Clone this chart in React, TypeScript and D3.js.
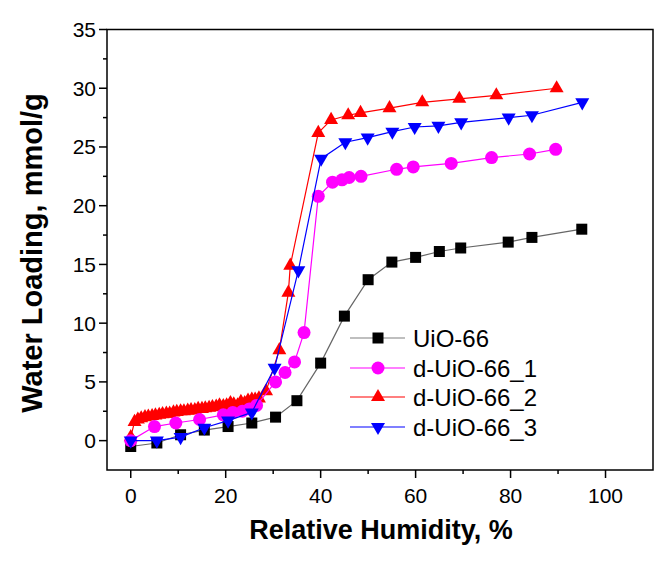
import React from "react";
import * as d3 from "d3";

const uioX = [0, 5.5, 10.5, 15.5, 20.5, 25.5, 30.5, 35, 40, 45, 50, 55, 60, 65, 69.5, 79.5, 84.5, 95];
const uioY = [-0.5, -0.2, 0.5, 0.9, 1.2, 1.5, 2.0, 3.4, 6.6, 10.6, 13.7, 15.2, 15.6, 16.1, 16.4, 16.9, 17.3, 18.0];

const d1X = [0, 5, 9.5, 14.5, 19.5, 21.5, 23.5, 25, 26.5, 30.5, 32.5, 34.5, 36.5, 39.5, 42.5, 44.5, 46, 48.5, 56, 59.5, 67.5, 76, 84, 89.5];
const d1Y = [0, 1.2, 1.5, 1.8, 2.2, 2.4, 2.5, 2.7, 3.0, 5.0, 5.8, 6.7, 9.2, 20.8, 22.0, 22.2, 22.4, 22.5, 23.1, 23.3, 23.6, 24.1, 24.4, 24.8];

const d2X = [0, 0.8, 1.5, 2.2, 3.0, 3.7, 4.5, 5.2, 6.0, 6.7, 7.5, 8.2, 9.0, 9.7, 10.5, 11.2, 12.0, 12.7, 13.5, 14.2, 15.0, 15.7, 16.5, 17.2, 18.0, 18.7, 19.5, 20.2, 21.0, 21.7, 22.5, 23.2, 24.0, 24.7, 25.5, 26.2, 27.0, 28.5, 31.3, 33.2, 33.6, 39.5, 42.2, 45.8, 48.4, 54.5, 61.4, 69.2, 77, 89.7];
const d2Y = [0.3, 1.6, 1.8, 1.9, 2.0, 2.05, 2.1, 2.15, 2.2, 2.25, 2.3, 2.3, 2.4, 2.45, 2.5, 2.5, 2.55, 2.6, 2.6, 2.7, 2.7, 2.75, 2.8, 2.85, 2.9, 3.0, 2.95, 3.0, 3.2, 3.1, 3.0, 3.3, 3.2, 3.4, 3.5, 3.5, 3.6, 4.2, 7.7, 12.6, 14.9, 26.2, 27.3, 27.7, 27.9, 28.3, 28.8, 29.1, 29.4, 30.0];

const d3X = [0, 5.5, 10.5, 15.5, 20.5, 25.5, 30.3, 35.3, 40.1, 45.2, 49.9, 55.1, 59.8, 64.8, 69.6, 79.6, 84.5, 95.1];
const d3Y = [0.0, 0.0, 0.3, 1.1, 1.7, 2.4, 6.2, 14.5, 24.0, 25.4, 25.8, 26.3, 26.7, 26.8, 27.1, 27.5, 27.7, 28.8];

const xTicks = [0, 20, 40, 60, 80, 100];
const xMinor = [10, 30, 50, 70, 90];
const yTicks = [0, 5, 10, 15, 20, 25, 30, 35];
const yMinor = [2.5, 7.5, 12.5, 17.5, 22.5, 27.5, 32.5];

const seriesNames = ["UiO-66", "d-UiO-66_1", "d-UiO-66_2", "d-UiO-66_3"];
const seriesColors = ["#000000", "#ff00ff", "#ff0000", "#0000ff"];
const lineColors = ["#666666", "#ff00ff", "#ff0000", "#0000ff"];
const seriesShapes = ["square", "circle", "triUp", "triDown"];

const W = 658, H = 561;
const x = d3.scaleLinear().domain([-5, 110]).range([107, 653]);
const y = d3.scaleLinear().domain([-2.5, 35]).range([470, 29.5]);

function marker(shape: string, cx: number, cy: number, color: string, key: any) {
  if (shape === "square") {
    const s = 11;
    return <rect key={key} x={cx - s / 2} y={cy - s / 2} width={s} height={s} fill={color} />;
  }
  if (shape === "circle") {
    return <circle key={key} cx={cx} cy={cy} r={6.5} fill={color} />;
  }
  const a = 14;
  const h = a * Math.sqrt(3) / 2;
  if (shape === "triUp") {
    const p = `M${cx},${cy - h * 2 / 3}L${cx + a / 2},${cy + h / 3}L${cx - a / 2},${cy + h / 3}Z`;
    return <path key={key} d={p} fill={color} />;
  }
  const p = `M${cx},${cy + h * 2 / 3}L${cx + a / 2},${cy - h / 3}L${cx - a / 2},${cy - h / 3}Z`;
  return <path key={key} d={p} fill={color} />;
}

export default function App() {
  const data = [
    [uioX, uioY],
    [d1X, d1Y],
    [d2X, d2Y],
    [d3X, d3Y],
  ];
  const order = [0, 2, 1, 3];
  const line = d3.line<number[]>().x(d => x(d[0])).y(d => y(d[1]));
  const font = "Arial, 'Liberation Sans', sans-serif";
  const legY = [338, 368, 397, 427];
  return (
    <svg width={W} height={H} style={{ position: "absolute", left: 0, top: 0 }}>
      <rect width={W} height={H} fill="#fff" />
      {order.map(i => {
        const pts = data[i][0].map((v, j) => [v, data[i][1][j]]);
        return (
          <g key={i}>
            <path d={line(pts) || ""} fill="none" stroke={lineColors[i]} strokeWidth={1.2} />
            {pts.map((p, j) => marker(seriesShapes[i], x(p[0]), y(p[1]), seriesColors[i], j))}
          </g>
        );
      })}
      <rect x={107} y={29.5} width={546} height={440.5} fill="none" stroke="#000" strokeWidth={1.5} />
      {xTicks.map(t => (
        <g key={"xt" + t}>
          <line x1={x(t)} x2={x(t)} y1={470} y2={478} stroke="#000" strokeWidth={1.5} />
          <text x={x(t)} y={503} textAnchor="middle" fontFamily={font} fontSize={21}>{t}</text>
        </g>
      ))}
      {xMinor.map(t => (
        <line key={"xm" + t} x1={x(t)} x2={x(t)} y1={470} y2={474} stroke="#000" strokeWidth={1.5} />
      ))}
      {yTicks.map(t => (
        <g key={"yt" + t}>
          <line x1={99} x2={107} y1={y(t)} y2={y(t)} stroke="#000" strokeWidth={1.5} />
          <text x={96} y={y(t) + 7.5} textAnchor="end" fontFamily={font} fontSize={21}>{t}</text>
        </g>
      ))}
      {yMinor.map(t => (
        <line key={"ym" + t} x1={103} x2={107} y1={y(t)} y2={y(t)} stroke="#000" strokeWidth={1.5} />
      ))}
      <text x={381} y={539} textAnchor="middle" fontFamily={font} fontSize={27} fontWeight="bold">Relative Humidity, %</text>
      <text transform="translate(42,253) rotate(-90)" textAnchor="middle" fontFamily={font} fontSize={29} fontWeight="bold">Water Loading, mmol/g</text>
      {seriesNames.map((n, i) => (
        <g key={"leg" + i}>
          <line x1={350} x2={405} y1={legY[i]} y2={legY[i]} stroke={i === 0 ? "#808080" : lineColors[i]} strokeWidth={1.2} />
          {marker(seriesShapes[i], 378, legY[i], seriesColors[i], "m")}
          <text x={413} y={legY[i] + 8.5} fontFamily={font} fontSize={24}>{n}</text>
        </g>
      ))}
    </svg>
  );
}
